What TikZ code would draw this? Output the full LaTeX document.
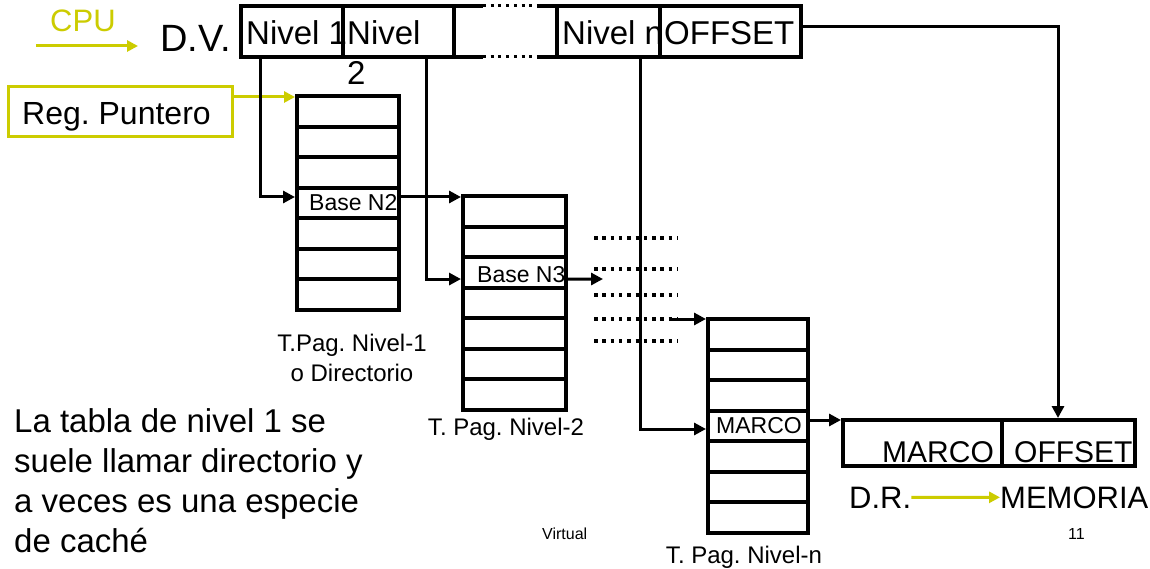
\documentclass[tikz,border=0pt]{standalone}
\usepackage{fontspec}
\setmainfont{Liberation Sans}
\usetikzlibrary{arrows.meta}
\definecolor{yel}{RGB}{204,204,0}
\newcommand\mktable[4]{% name, left, top, width
  \foreach \i in {1,...,7} {
    \node[tabrow, minimum width=#4] (#1-\i) at ({#2+#4/2}, {#3+(\i-0.5)*30.571}) {};
  }%
}
\begin{document}
\frenchspacing
\begin{tikzpicture}[x=1pt,y=-1pt,
  cell/.style={draw, line width=4pt, inner sep=0, minimum height=51pt},
  tabrow/.style={draw, line width=4pt, inner sep=0, minimum height=30.571pt},
  txt/.style={inner sep=0, anchor=base west},
  conn/.style={line width=3pt, -{Triangle[length=12pt,width=12pt]}},
  thickline/.style={line width=4pt},
  dotline/.style={line width=3.5pt, dash pattern=on 3.5pt off 4.8pt},
  smalldots/.style={line width=3pt, dash pattern=on 3pt off 4.7pt},
  yarr/.style={draw=yel, line width=3pt, -{Triangle[length=11pt,width=11pt]}},
  fA/.style={font=\fontsize{33}{40}\selectfont},
  fB/.style={font=\fontsize{23}{28}\selectfont},
  fC/.style={font=\fontsize{30}{36}\selectfont},
  fL/.style={font=\fontsize{24}{30}\selectfont},
  fS/.style={font=\fontsize{16}{19}\selectfont},
]
\useasboundingbox[fill=white] (0,0) rectangle (1150,569);

% ---- virtual address register
\node[cell, minimum width=102pt] (c1) at (292,31.5) {};
\node[cell, minimum width=111pt] (c2) at (398.5,31.5) {};
\node[inner sep=0, minimum height=51pt, minimum width=103pt] (c3) at (505.5,31.5) {};
\node[cell, minimum width=103pt] (cn) at (608.5,31.5) {};
\node[cell, minimum width=141pt] (co) at (730.5,31.5) {};
\draw[thickline] (454,6) -- (483,6) (537,6) -- (557,6)
                 (454,57) -- (483,57) (537,57) -- (557,57);
\draw[smalldots] (483,6) -- (537,6) (483,57) -- (537,57);

\node[txt, fA] (tniv1) at (246,45) {Nivel 1};
\node[txt, fA] (tniv2) at (347,45) {Nivel};
\node[txt, fA] (tniv2b) at (347,85) {2};
\node[txt, fA] (tnivn) at (562,45) {Nivel n};
\node[txt, fA] (toff) at (664,45) {OFFSET};

\node[txt, font=\fontsize{38}{44}\selectfont] (dv) at (160,52) {D.V.};
\node[txt, font=\fontsize{31}{36}\selectfont, text=yel] (cpu) at (50,32) {CPU};
\coordinate (cpuA) at (36,46);
\coordinate (cpuB) at (138,46);
\draw[yarr] (cpuA) -- (cpuB);

% ---- pointer register
\node[draw=yel, line width=3pt, inner sep=0, minimum width=224pt, minimum height=50pt] (reg) at (120,112) {};
\node[txt, font=\fontsize{32}{38}\selectfont] (treg) at (22,125) {Reg. Puntero};

% ---- tables
\mktable{t1}{297}{96}{102}
\mktable{t2}{463}{196}{103}
\mktable{tn}{708}{319}{100}

\node[txt, fB] (bn2) at (309,211) {Base N2};
\node[txt, fB] (bn3) at (477,282) {Base N3};
\node[txt, fB] (mrc) at (716,433) {MARCO};

\node[fL, align=center, anchor=north, inner sep=0] (lab1) at (352,334) {T.Pag. Nivel-1\\o Directorio};
\node[fL, anchor=base, inner sep=0] (lab2) at (506,435) {T. Pag. Nivel-2};
\node[fL, anchor=base, inner sep=0] (labn) at (744,563) {T. Pag. Nivel-n};

% ---- real address
\node[draw, line width=4pt, inner sep=0, minimum width=159pt, minimum height=46pt] (dm) at (922.5,443) {};
\node[draw, line width=4pt, inner sep=0, minimum width=133pt, minimum height=46pt] (do) at (1068.5,443) {};
\node[txt, fC] (tmarco) at (882,462) {MARCO};
\node[txt, fC] (toffs) at (1014,462) {OFFSET};

\node[txt, font=\fontsize{31}{36}\selectfont] (dr) at (849,508) {D.R.};
\node[txt, font=\fontsize{31}{36}\selectfont] (mem) at (1000,508) {MEMORIA};
\draw[yarr] (dr.east) -- (mem.west);

% ---- other texts
\node[fA, align=left, anchor=north west, inner sep=0] (expl) at (14,408)
  {La tabla de nivel 1 se\\suele llamar directorio y\\a veces es una especie\\de caché};
\node[txt, fS] (virt) at (542,539) {Virtual};
\node[txt, fS] (pnum) at (1068,539) {11};

% ---- dotted continuation lines
\foreach \yy in {238,269,295,319,341} {
  \draw[dotline] (594,\yy) -- (678,\yy);
}
\coordinate (d4) at (670,319);
\coordinate (b3end) at (603,279);

% ---- connectors
\draw[yarr] ([yshift=15pt]reg.east) -- ([yshift=15pt]reg.east -| t1-1.west);
\draw[conn] ([xshift=-32pt]c1.south) |- ([yshift=6pt]t1-4.west);
\draw[conn] ([yshift=6pt]t1-4.east) -- ([yshift=6pt]t1-4.east -| t2-1.west);
\draw[conn] ([xshift=27.5pt]c2.south) |- ([yshift=-6.6pt]t2-3.west);
\draw[conn] ([yshift=-6.6pt]t2-3.east) -- (b3end);
\draw[conn] (d4) -- (d4 -| tn-1.west);
\draw[conn] ([xshift=31.5pt]cn.south) |- ([yshift=-3pt]tn-4.west);
\draw[conn] ([yshift=6pt]tn-4.east) -- ([yshift=6pt]tn-4.east -| dm.west);
\draw[conn] ([yshift=4.5pt]co.east) -| ([xshift=-10.5pt]do.north);
\end{tikzpicture}
\end{document}
